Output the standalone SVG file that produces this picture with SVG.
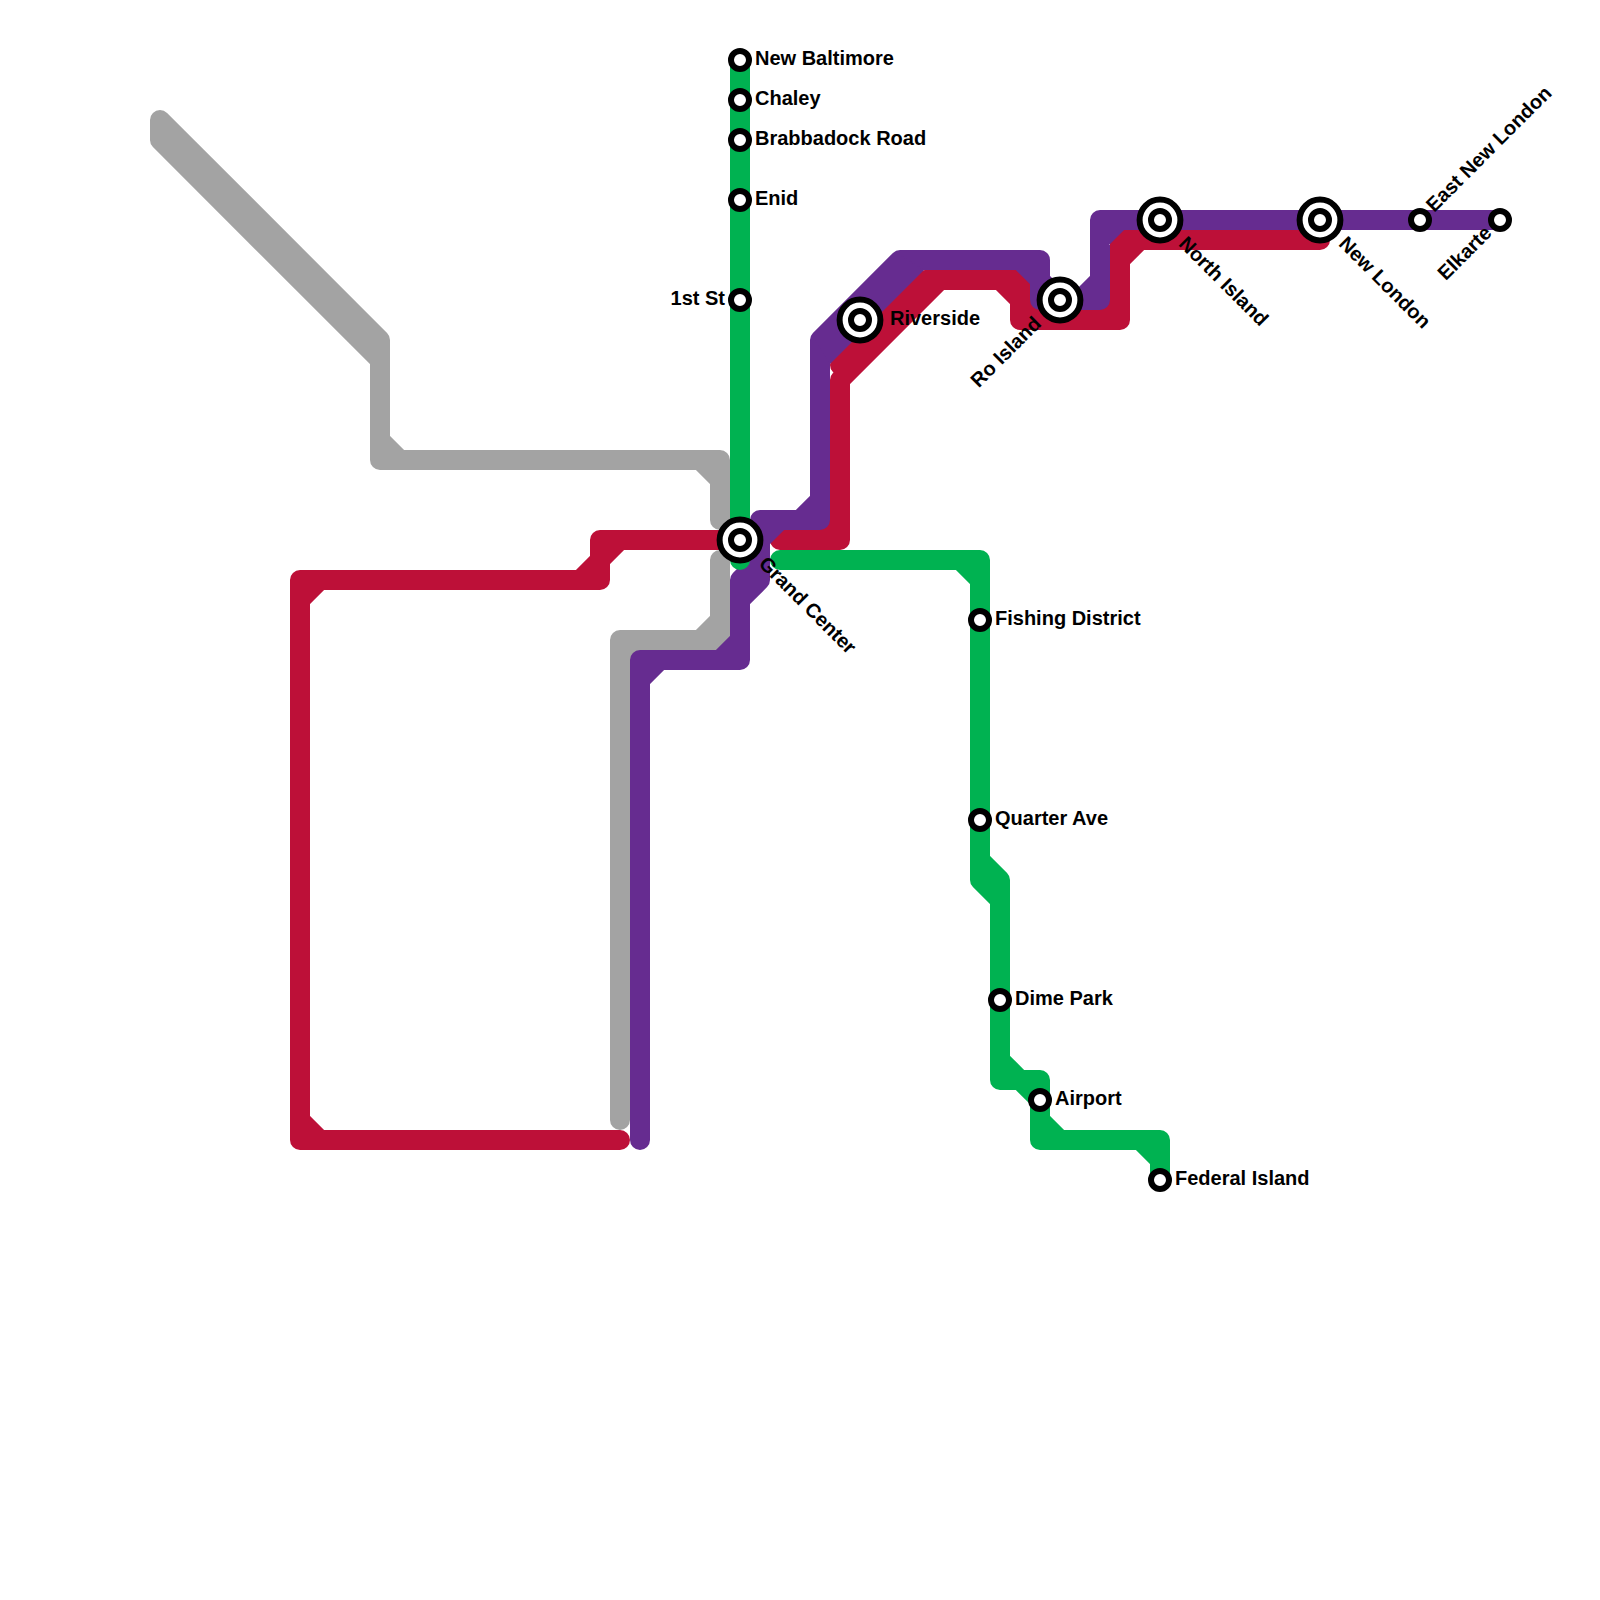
<svg xmlns="http://www.w3.org/2000/svg" width="1600" height="1600" viewBox="0 0 1600 1600">
<style>
.l{fill:none;stroke-width:20;stroke-linecap:round;stroke-linejoin:round}
.ring{fill:#fff;stroke:#000;stroke-width:6}
.t{font:bold 20px "Liberation Sans",Arial,sans-serif;fill:#000}
.e{text-anchor:end}
</style>
<defs>
<g id="s"><circle class="ring" r="9"/></g>
<g id="b"><circle class="ring" r="20.4"/><circle class="ring" r="9"/></g>
</defs>
<rect width="1600" height="1600" fill="#fff"/>
<g id="connectors">
<path id="line-gray" class="l" stroke="#a3a3a3" d="M160 140V120L380 340V460H720V520M160 140L380 360M380 440L400 460M700 460L720 480M720 560V640H620V1120M720 620L700 640M620 660L640 640"/>
<path id="line-red" class="l" stroke="#bd1038" d="M740 540H600V580H300V1140H620M600 560L620 540M580 580L600 560M300 600L320 580M300 1120L320 1140M780 540H840V380L940 280H1020V320H1120V240H1320M820 540L840 520M840 365L925 280H940M1000 280L1020 300M1020 300L1040 320M1100 320L1120 300M1120 260L1140 240"/>
<path id="line-purple" class="l" stroke="#662c90" d="M640 1140V660H740V600L760 580V520H820V340L900 260H1040V300H1100V220H1500M640 680L660 660M720 660L740 640M760 560L740 580V600M760 540L780 520M800 520L820 500M1020 260L1040 280M1040 280L1060 300M1080 300L1100 280M1100 240L1120 220"/>
<path id="purple-fill" fill="#662c90" d="M830 364L924 270L900 255L815 340Z"/>
<path id="line-green" class="l" stroke="#00b251" d="M740 60V560M780 560H980V880L1000 900V1080H1040V1140H1160V1180M960 560L980 580M980 860L1000 880V900M1000 1060L1020 1080M1020 1080L1040 1100M1040 1120L1060 1140M1140 1140L1160 1160"/>
</g>
<g id="new-baltimore"><use href="#s" x="740" y="60"/><text class="t" x="755" y="65">New Baltimore</text></g>
<g id="chaley"><use href="#s" x="740" y="100"/><text class="t" x="755" y="105">Chaley</text></g>
<g id="brabbadock-road"><use href="#s" x="740" y="140"/><text class="t" x="755" y="145">Brabbadock Road</text></g>
<g id="enid"><use href="#s" x="740" y="200"/><text class="t" x="755" y="205">Enid</text></g>
<g id="first-st"><use href="#s" x="740" y="300"/><text class="t e" x="725" y="305">1st St</text></g>
<g id="grand-center"><use href="#b" x="740" y="540"/><text class="t" transform="translate(740 540) rotate(45)" x="30" y="5">Grand Center</text></g>
<g id="riverside"><use href="#b" x="860" y="320"/><text class="t" x="890" y="325">Riverside</text></g>
<g id="ro-island"><use href="#b" x="1060" y="300"/><text class="t e" transform="translate(1060 300) rotate(-45)" x="-30" y="5">Ro Island</text></g>
<g id="north-island"><use href="#b" x="1160" y="220"/><text class="t" transform="translate(1160 220) rotate(45)" x="30" y="5">North Island</text></g>
<g id="new-london"><use href="#b" x="1320" y="220"/><text class="t" transform="translate(1320 220) rotate(45)" x="30" y="5">New London</text></g>
<g id="east-new-london"><use href="#s" x="1420" y="220"/><text class="t" transform="translate(1420 220) rotate(-45)" x="15" y="5">East New London</text></g>
<g id="elkarte"><use href="#s" x="1500" y="220"/><text class="t e" transform="translate(1500 220) rotate(-45)" x="-15" y="5">Elkarte</text></g>
<g id="fishing-district"><use href="#s" x="980" y="620"/><text class="t" x="995" y="625">Fishing District</text></g>
<g id="quarter-ave"><use href="#s" x="980" y="820"/><text class="t" x="995" y="825">Quarter Ave</text></g>
<g id="dime-park"><use href="#s" x="1000" y="1000"/><text class="t" x="1015" y="1005">Dime Park</text></g>
<g id="airport"><use href="#s" x="1040" y="1100"/><text class="t" x="1055" y="1105">Airport</text></g>
<g id="federal-island"><use href="#s" x="1160" y="1180"/><text class="t" x="1175" y="1185">Federal Island</text></g>
</svg>
